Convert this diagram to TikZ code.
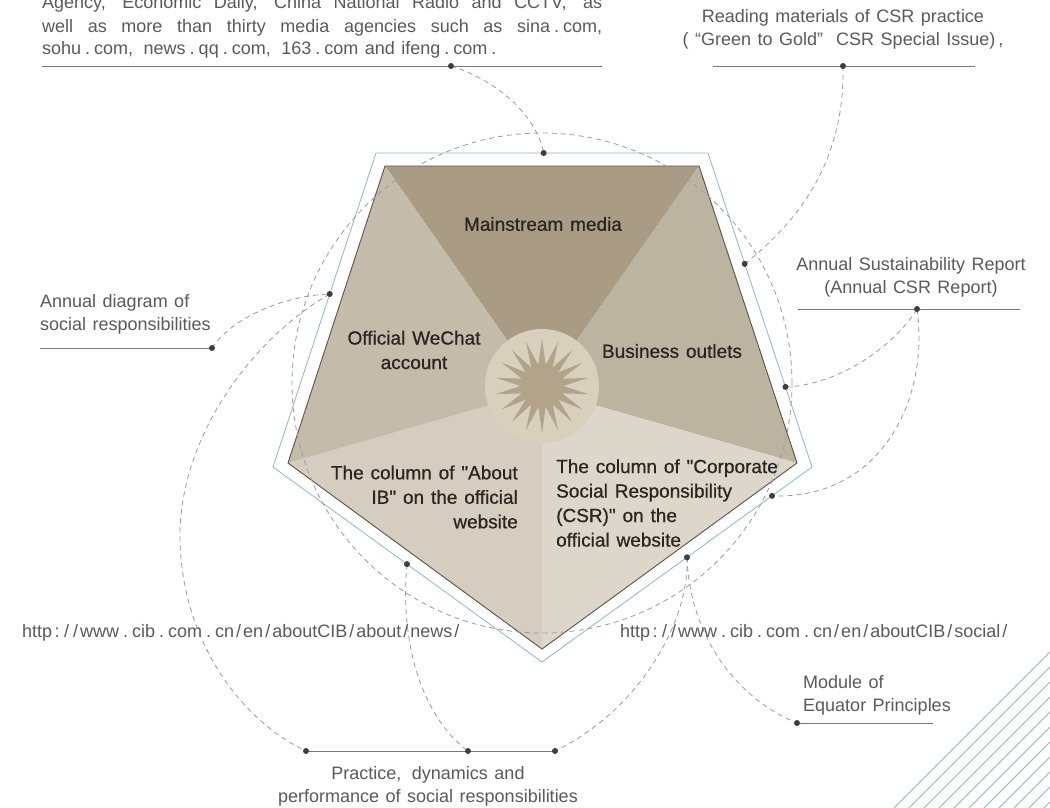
\documentclass[tikz,border=0pt]{standalone}
\usepackage{fontspec}
\setmainfont{Liberation Sans}
\newfontfamily\outfam[WordSpace=1.3]{Liberation Sans}
\newfontfamily\infam[WordSpace=1.3,FakeBold=0.7]{Liberation Sans}
\usetikzlibrary{shapes.geometric,calc}
\newcommand\dotk{\kern4pt.\kern4pt}
\newcommand\comk{,\kern4pt\ }
\newcommand\slk{\kern2pt/\kern2pt}
\newcommand\colk{\kern2.5pt:\kern2.5pt}
\definecolor{txtgray}{HTML}{5A5A5A}
\definecolor{linegray}{HTML}{7A7A7A}
\definecolor{dotgray}{HTML}{3E3E3E}
\definecolor{dashgray}{HTML}{9C9C9C}
\definecolor{intxtc}{HTML}{2A2521}
\definecolor{faceT}{HTML}{AA9C84}
\definecolor{faceR}{HTML}{BDB3A1}
\definecolor{faceBR}{HTML}{DDD6CA}
\definecolor{faceBL}{HTML}{D5CDBF}
\definecolor{faceL}{HTML}{C5BBAA}
\definecolor{edgecol}{HTML}{5E5245}
\definecolor{discol}{HTML}{D8CFBD}
\definecolor{starcol}{HTML}{B1A48B}
\definecolor{tealline}{HTML}{8DB9BF}
\begin{document}
\begin{tikzpicture}[x=1pt,y=-1pt,
  outtxt/.style={text=txtgray,font=\outfam\fontsize{18}{23}\selectfont,inner sep=0pt},
  intxt/.style={text=intxtc,font=\infam\fontsize{19}{24.5}\selectfont,inner sep=0pt},
  rulec/.style={draw=linegray,line width=0.9pt},
  dashc/.style={draw=dashgray,line width=0.8pt,dash pattern=on 5pt off 4pt},
  dotc/.style={fill=dotgray},
  tealc/.style={draw=tealline,line width=0.8pt}]
\useasboundingbox (0,0) rectangle (1050,808);
\fill[white] (0,0) rectangle (1050,808);
\clip (0,0) rectangle (1050,808);

% decorative diagonal lines
\foreach \k in {0,...,10} \draw[tealc] ({892+15*\k},810) -- ++(210,-210);

% pentagon geometry
\coordinate (O) at (542,390);
\coordinate (iA) at (385,166); \coordinate (iB) at (699,166);
\coordinate (iC) at (797,463); \coordinate (iD) at (542,649);
\coordinate (iE) at (288,463);
\coordinate (oA) at (376,153); \coordinate (oB) at (708,153);
\coordinate (oC) at (812,467); \coordinate (oD) at (542,662);
\coordinate (oE) at (273,467);

\fill[faceT] (iA) -- (iB) -- (O) -- cycle;
\fill[faceR] (iB) -- (iC) -- (O) -- cycle;
\fill[faceBR] (iC) -- (iD) -- (O) -- cycle;
\fill[faceBL] (iD) -- (iE) -- (O) -- cycle;
\fill[faceL] (iE) -- (iA) -- (O) -- cycle;
\draw[edgecol,line width=0.9pt,line join=miter] (iA) -- (iB) -- (iC) -- (iD) -- (iE) -- cycle;
\draw[tealc,line join=miter] (oA) -- (oB) -- (oC) -- (oD) -- (oE) -- cycle;
\coordinate (S) at (542,386);
\fill[discol] (S) circle (57pt);
\node[star,star points=18,star point ratio=2.2,minimum size=94pt,inner sep=0pt,fill=starcol] (st) at (S) {};

% dots on the outer pentagon
\coordinate (p1) at ($(oA)!0.505!(oB)$);
\coordinate (p2) at ($(oB)!0.353!(oC)$);
\coordinate (p3) at ($(oB)!0.745!(oC)$);
\coordinate (p4) at ($(oC)!0.148!(oD)$);
\coordinate (p5) at ($(oC)!0.463!(oD)$);
\coordinate (p6) at ($(oD)!0.502!(oE)$);
\coordinate (p7) at ($(oA)!0.449!(oE)$);

% label rules
\coordinate (tlA) at (42,66); \coordinate (tlB) at (602,66); \coordinate (dA) at (451,66);
\coordinate (trA) at (713,66); \coordinate (trB) at (975,66); \coordinate (dB) at (843,66);
\coordinate (rA) at (798,309); \coordinate (rB) at (1020,309); \coordinate (dC) at (917,309);
\coordinate (lA) at (40,348); \coordinate (dD) at (212,348);
\coordinate (dE1) at (306,751); \coordinate (dE2) at (468,751); \coordinate (dE3) at (555,751);
\coordinate (dF) at (797,723); \coordinate (mB) at (933,723);
\draw[rulec] (tlA) -- (tlB);
\draw[rulec] (trA) -- (trB);
\draw[rulec] (rA) -- (rB);
\draw[rulec] (lA) -- (dD);
\draw[rulec] (dE1) -- (dE3);
\draw[rulec] (dF) -- (mB);

% dashed circle and connectors
\draw[dashc] (542,383) circle (250pt);
\draw[dashc] (dA) .. controls (490,78) and (535,110) .. (p1);
\draw[dashc] (dB) .. controls (845,160) and (800,220) .. (p2);
\draw[dashc] (p3) .. controls (840,385) and (895,345) .. (dC);
\draw[dashc] (dC) .. controls (930,400) and (880,500) .. (p4);
\draw[dashc] (dD) .. controls (230,320) and (280,296) .. (p7);
\draw[dashc] (p7) .. controls (250,340) and (178,440) .. (180,540) .. controls (182,640) and (240,720) .. (dE1);
\draw[dashc] (p6) .. controls (400,640) and (420,715) .. (dE2);
\draw[dashc] (p5) .. controls (690,620) and (640,710) .. (dE3);
\draw[dashc] (p5) .. controls (690,640) and (740,700) .. (dF);

% dots
\foreach \d in {dA,dB,dC,dD,dE1,dE2,dE3,dF,p1,p2,p3,p4,p5,p6,p7} \fill[dotc] (\d) circle (3pt);

% inner labels
\node[intxt] (mm) at (543,224) {Mainstream media};
\node[intxt,align=center] (wc) at (414,350) {Official WeChat\\account};
\node[intxt] (bo) at (672,351) {Business outlets};
\node[intxt,align=right,anchor=east] (ab) at (518,497) {The column of "About\\IB" on the official\\website};
\node[intxt,align=left,anchor=west] (cs) at (556,503) {The column of "Corporate\\Social Responsibility\\(CSR)" on the\\official website};

% outer labels
\node[outtxt,anchor=base west] (tp1) at (42,9) {\makebox[560pt][s]{Agency\comk Economic Daily\comk China National Radio and CCTV\comk as}};
\node[outtxt,anchor=base west] (tp2) at (42,33) {\makebox[560pt][s]{well as more than thirty media agencies such as sina\dotk com,}};
\node[outtxt,anchor=base west] (tp3) at (42,55) {sohu\dotk com\comk news\dotk qq\dotk com\comk 163\dotk com and ifeng\dotk com\dotk};
\node[outtxt,align=center] (rd) at (843,29) {Reading materials of CSR practice\\(\ “Green to Gold”\ \ CSR Special Issue)\kern3pt,};
\node[outtxt,align=center] (asr) at (911,277) {Annual Sustainability Report\\(Annual CSR Report)};
\node[outtxt,align=left,anchor=west] (adg) at (40,314) {Annual diagram of\\social responsibilities};
\node[outtxt,align=center] (pdp) at (428,786) {Practice\comk dynamics and\\performance of social responsibilities};
\node[outtxt,align=left,anchor=west] (mod) at (803,695) {Module of\\Equator Principles};
\node[outtxt,anchor=west] (u1) at (22,633) {http\colk\slk\slk www\dotk cib\dotk com\dotk cn\slk en\slk aboutCIB\slk about\slk news\slk};
\node[outtxt,anchor=west] (u2) at (620,633) {http\colk\slk\slk www\dotk cib\dotk com\dotk cn\slk en\slk aboutCIB\slk social\slk};
\end{tikzpicture}
\end{document}
